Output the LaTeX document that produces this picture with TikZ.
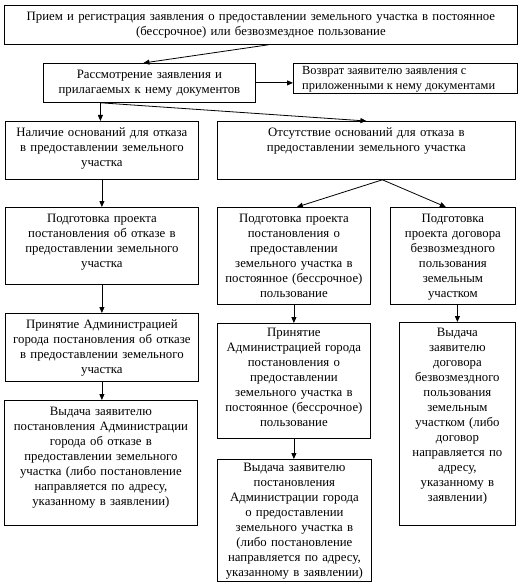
\documentclass[tikz,border=0pt]{standalone}
\usepackage{fontspec}
\setmainfont{Liberation Serif}
\usetikzlibrary{arrows.meta}
\tikzset{
  box/.style={draw=black, line width=0.8pt, fill=white, inner sep=0pt, anchor=north west},
  txt/.style={inner sep=0pt, align=center, anchor=north, font=\fontsize{12.8}{15}\selectfont},
  arr/.style={draw=black, line width=0.8pt, -{Triangle[length=6pt,width=5pt]}}
}
% \bx[top offset]{name}{x1}{y1}{x2}{y2}{text}
\newcommand{\bx}[7][7]{%
  \pgfmathsetmacro{\bw}{#5-#3}\pgfmathsetmacro{\bh}{#6-#4}%
  \node[box, minimum width=\bw pt, minimum height=\bh pt] (#2) at (#3,#4) {};%
  \node[txt, text width=\bw pt - 2pt] (#2T) at ([yshift=-#1pt]#2.north) {#7};%
}
\begin{document}
\begin{tikzpicture}[x=1pt,y=-1pt]
\useasboundingbox[fill=white] (0,0) rectangle (521,588);
\bx{top}{4}{5}{517}{44}{Прием и регистрация заявления о предоставлении земельного участка в постоянное\\(бессрочное) или безвозмездное пользование}
\bx{rev}{43}{63}{255}{102}{Рассмотрение заявления и\\прилагаемых к нему документов}
\node[box, minimum width=224pt, minimum height=30pt] (ret) at (293,63) {};
\node[txt, align=left, anchor=north west, font=\fontsize{12.4}{14.8}\selectfont] (retT) at ([xshift=9pt,yshift=-3.5pt]ret.north west) {Возврат заявителю заявления с\\приложенными к нему документами};
\bx{nal}{5}{121}{198}{179}{Наличие оснований для отказа\\в предоставлении земельного\\участка}
\bx{ots}{217}{121}{515}{179}{Отсутствие оснований для отказа в\\предоставлении земельного участка}
\bx{pa}{5}{207}{198}{284}{Подготовка проекта\\постановления об отказе в\\предоставлении земельного\\участка}
\bx{pb}{217}{207}{370}{304}{Подготовка проекта\\постановления о\\предоставлении\\земельного участка в\\постоянное (бессрочное)\\пользование}
\bx{pc}{390}{207}{515}{304}{Подготовка\\проекта договора\\безвозмездного\\пользования\\земельным\\участком}
\bx{ra}{5}{313}{198}{381}{Принятие Администрацией\\города постановления об отказе\\в предоставлении земельного\\участка}
\bx[4.5]{rb}{217}{323}{370}{438}{Принятие\\Администрацией города\\постановления о\\предоставлении\\земельного участка в\\постоянное (бессрочное)\\пользование}
\bx[5.5]{vc}{399}{322}{515}{525}{Выдача\\заявителю\\договора\\безвозмездного\\пользования\\земельным\\участком (либо\\договор\\направляется по\\адресу,\\указанному в\\заявлении)}
\bx{va}{4}{400}{197}{525}{Выдача заявителю\\постановления Администрации\\города об отказе в\\предоставлении земельного\\участка (либо постановление\\направляется по адресу,\\указанному в заявлении)}
\bx[3.5]{vb}{217}{459}{371}{581}{Выдача заявителю\\постановления\\Администрации города\\о предоставлении\\земельного участка в\\(либо постановление\\направляется по адресу,\\указанному в заявлении)}
% connectors
\draw[arr] ([xshift=7.5pt]top.south) -- ([xshift=-6pt]rev.north);
\draw[arr] (rev.east) -- (rev.east -| ret.west);
\coordinate (rs) at ([xshift=-49pt]rev.south);
\draw[arr] (rs) -- (rs |- nal.north);
\draw[arr] (rs) -- (ots.north);
\draw[arr] (nal.south) -- (pa.north);
\coordinate (os) at ([xshift=16pt]ots.south);
\draw[arr] (os) -- ([xshift=3pt]pb.north);
\draw[arr] (os) -- ([xshift=-7pt]pc.north);
\draw[arr] (pa.south) -- (ra.north);
\draw[arr] (ra.south) -- (ra.south |- va.north);
\draw[arr] (pb.south) -- (rb.north);
\draw[arr] (rb.south) -- (rb.south |- vb.north);
\draw[arr] (pc.south -| vc.north) -- (vc.north);
\end{tikzpicture}
\end{document}
